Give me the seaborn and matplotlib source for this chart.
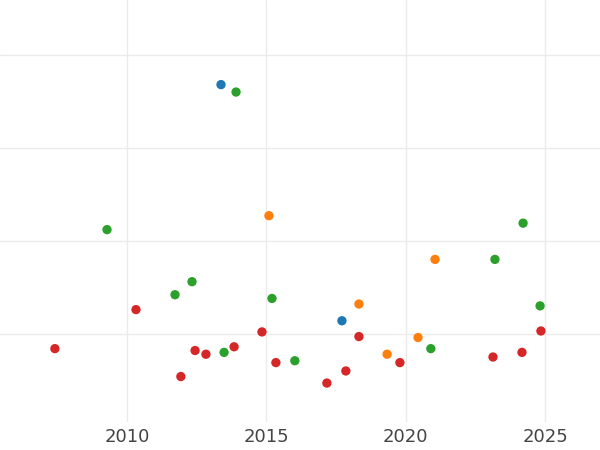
import matplotlib
matplotlib.use("Agg")
import matplotlib.pyplot as plt
import seaborn as sns
import pandas as pd

blue_x = [2013.37, 2017.71]
blue_y = [3.68, 1.14]
green_x = [2013.91, 2009.28, 2011.72, 2012.33, 2015.20, 2013.48, 2016.02, 2020.9, 2023.2, 2024.21, 2024.82]
green_y = [3.60, 2.12, 1.42, 1.56, 1.38, 0.80, 0.71, 0.84, 1.80, 2.19, 1.30]
orange_x = [2015.09, 2021.05, 2018.32, 2019.33, 2020.44]
orange_y = [2.27, 1.80, 1.32, 0.78, 0.96]
red_x = [2007.41, 2010.32, 2011.93, 2012.44, 2012.83, 2013.84, 2014.84, 2015.34, 2017.17, 2017.85, 2018.32, 2019.79, 2023.13, 2024.17, 2024.85]
red_y = [0.84, 1.26, 0.54, 0.82, 0.78, 0.86, 1.02, 0.69, 0.47, 0.60, 0.97, 0.69, 0.75, 0.80, 1.03]

groups = ["a"] * len(blue_x) + ["b"] * len(green_x) + ["c"] * len(orange_x) + ["d"] * len(red_x)
df = pd.DataFrame({"x": blue_x + green_x + orange_x + red_x,
                   "y": blue_y + green_y + orange_y + red_y,
                   "g": groups})
palette = {"a": "#1f77b4", "b": "#2ca02c", "c": "#ff7f0e", "d": "#d62728"}

sns.set_theme(style="whitegrid")
fig = plt.figure(figsize=(6, 4.5), dpi=100)
ax = fig.add_axes([0, 0.062, 1, 0.938])
sns.scatterplot(data=df, x="x", y="y", hue="g", palette=palette, s=45, edgecolor="none", legend=False, ax=ax)
ax.set_xlim(2005.44, 2026.97)
ax.set_ylim(0.05, 4.59)
ax.set_xticks([2010, 2015, 2020, 2025])
ax.set_yticks([1, 2, 3, 4])
ax.set_yticklabels([])
ax.tick_params(axis="y", length=0)
ax.tick_params(axis="x", labelsize=13, labelcolor="#444444", length=0, pad=4)
ax.grid(color="#ebebeb", linewidth=1)
ax.set_xlabel("")
ax.set_ylabel("")
for s in ax.spines.values():
    s.set_visible(False)
ax.set_facecolor("white")
fig.savefig("out.png", dpi=100)
